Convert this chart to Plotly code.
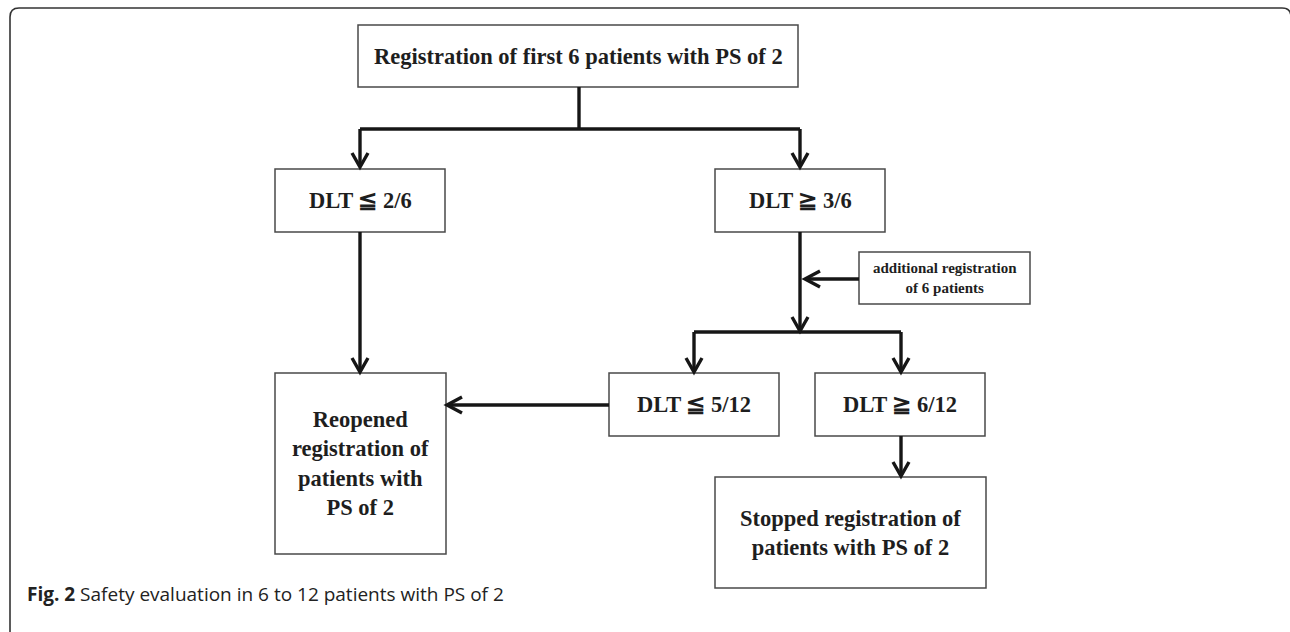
import plotly.graph_objects as go

# ---- content ----
box_labels = [
    "Registration of first 6 patients with PS of 2",
    "DLT \u2266 2/6",
    "DLT \u2267 3/6",
    "additional registration<br>of 6 patients",
    "DLT \u2266 5/12",
    "DLT \u2267 6/12",
    "Reopened<br>registration of<br>patients with<br>PS of 2",
    "Stopped registration of<br>patients with PS of 2",
]
caption_bold = "Fig. 2"
caption_text = "Safety evaluation in 6 to 12 patients with PS of 2"

# ---- layout geometry (pixels, y downward) ----
box_x0 = [358, 275, 715, 859, 609, 815, 275, 715]
box_x1 = [798, 445, 885, 1030, 779, 985, 446, 986]
box_y0 = [25, 169, 169, 252, 373, 373, 373, 477]
box_y1 = [87, 232, 232, 304, 436, 436, 554, 588]
box_font = [22.5, 22.5, 22.5, 15, 22.5, 22.5, 22.5, 22.5]

# plain connectors (x0, y0, x1, y1)
lines = [
    (579, 87, 579, 129),
    (360, 129, 800, 129),
    (694, 332, 901, 332),
]
# arrows (x0, y0, tip_x, tip_y)
arrows = [
    (360, 129, 360, 167),
    (800, 129, 800, 167),
    (360, 232, 360, 372),
    (800, 232, 800, 331),
    (694, 332, 694, 372),
    (901, 332, 901, 372),
    (859, 279, 805, 279),
    (609, 405, 447, 405),
    (901, 436, 901, 476),
]

W, H = 1290, 632
fig = go.Figure()
shapes = []
annotations = []

# outer frame (rounded, open at bottom-right)
r = 9
frame = (f"M 10,{632+4} L 10,{8+r} Q 10,8 {10+r},8 L {1291-r},8 Q 1291,8 1291,{8+r} L 1291,40")
shapes.append(dict(type="path", path=frame, line=dict(color="#333333", width=1.6)))

for lab, x0, x1, y0, y1, fs in zip(box_labels, box_x0, box_x1, box_y0, box_y1, box_font):
    shapes.append(dict(type="rect", x0=x0, x1=x1, y0=y0, y1=y1,
                       line=dict(color="#4a4a4a", width=1.5), fillcolor="white"))
    annotations.append(dict(x=(x0 + x1) / 2, y=(y0 + y1) / 2, text=f"<b>{lab}</b>",
                            showarrow=False, xanchor="center", yanchor="middle",
                            font=dict(family="Liberation Serif", size=fs, color="#1e1e1e"),
                            align="center"))

LC = "#161616"
LW = 3.4
for (x0, y0, x1, y1) in lines:
    shapes.append(dict(type="line", x0=x0, y0=y0, x1=x1, y1=y1, line=dict(color=LC, width=LW)))

for (x0, y0, tx, ty) in arrows:
    shapes.append(dict(type="line", x0=x0, y0=y0, x1=tx, y1=ty, line=dict(color=LC, width=LW)))
    if x0 == tx:  # vertical down
        p = f"M {tx-8},{ty-14} L {tx},{ty} L {tx+8},{ty-14}"
    else:  # horizontal left
        p = f"M {tx+15},{ty-8} L {tx},{ty} L {tx+15},{ty+8}"
    shapes.append(dict(type="path", path=p, line=dict(color=LC, width=LW)))

annotations.append(dict(x=25, y=594, text=f"<b>{caption_bold}</b> {caption_text}",
                        showarrow=False, xanchor="left", yanchor="middle",
                        font=dict(family="Open Sans", size=19, color="#222222")))

fig.update_layout(
    width=W, height=H, margin=dict(l=0, r=0, t=0, b=0),
    paper_bgcolor="white", plot_bgcolor="white",
    xaxis=dict(range=[0, W], visible=False, fixedrange=True),
    yaxis=dict(range=[H, 0], visible=False, fixedrange=True),
    shapes=shapes, annotations=annotations, showlegend=False,
)
fig.write_html("out.html", config={"displayModeBar": False},
               post_script="document.body.style.margin='0';document.body.style.overflow='hidden';")
